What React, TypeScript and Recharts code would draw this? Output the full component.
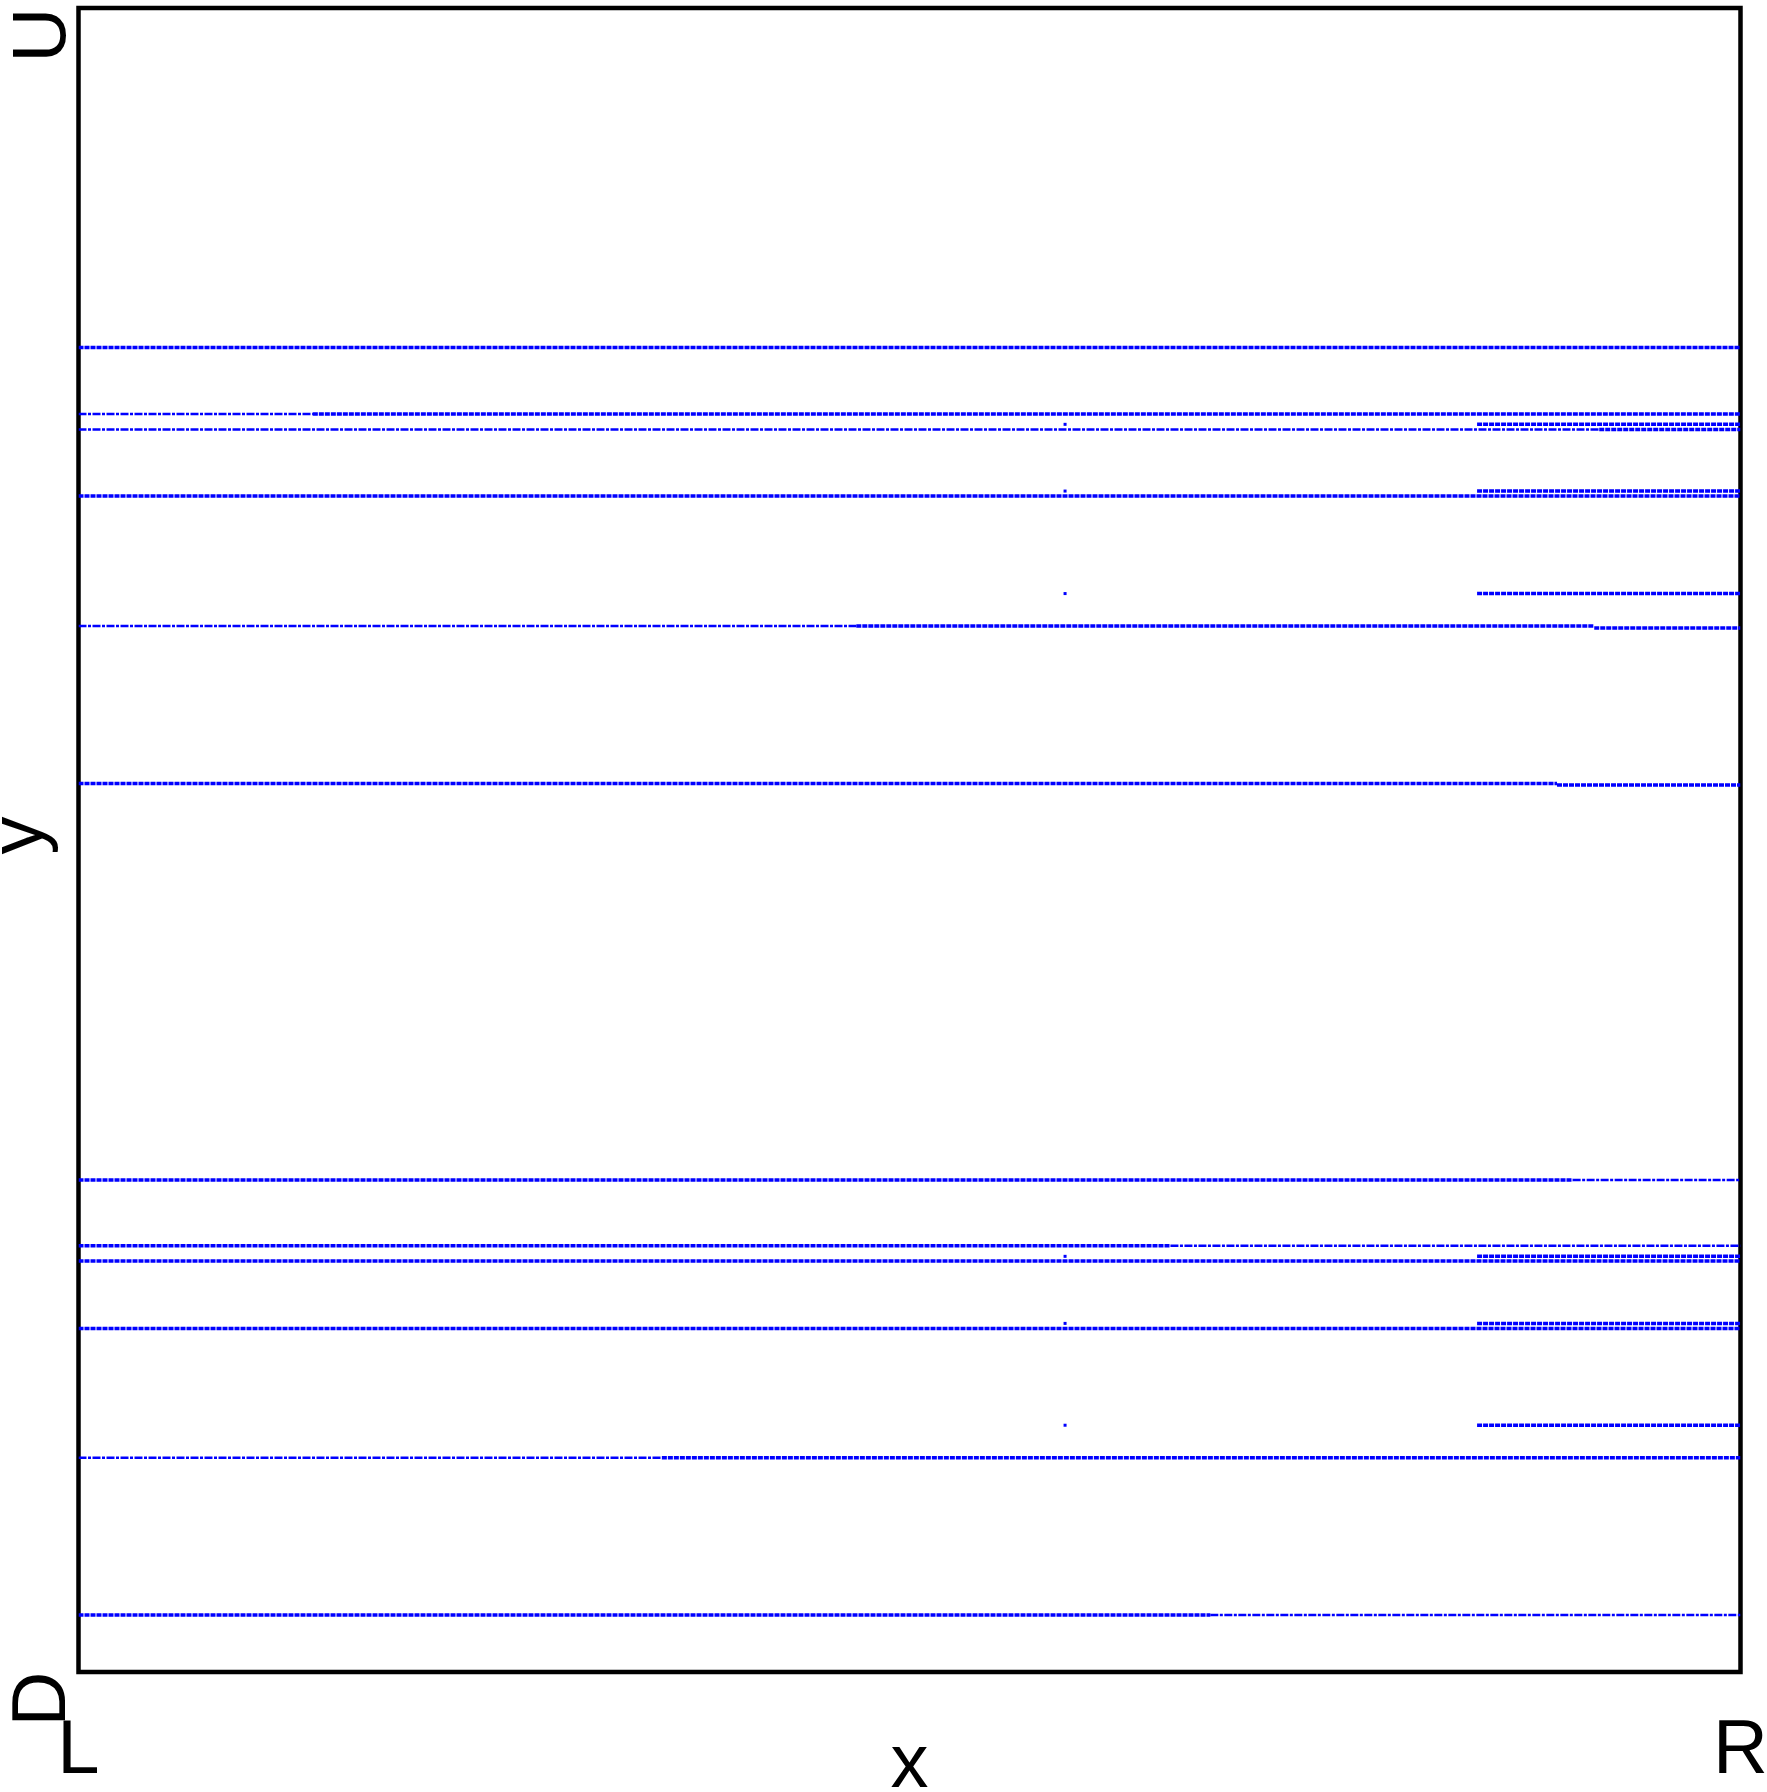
import { ComposedChart, Label, Line, ReferenceArea, Scatter, XAxis, YAxis } from 'recharts';

const WIDTH = 1767;
const HEIGHT = 1792;
const PLOT = { left: 78.5, top: 8, right: 1740.5, bottom: 1672 };

const BLUE = '#0000ff';
const FONT = '"Liberation Sans", Arial, Helvetica, sans-serif';
const FONT_SIZE = 76;

// axis ends and their names
const xTicks = [0, 1];
const xTickNames = ['L', 'R'];
const yTicks = [0, 1];
const yTickNames = ['D', 'U'];
const xTitle = 'x';
const yTitle = 'y';

// each band: [y, xStart, xEnd]
// loose bands (single row of points, sparse)
const sparseBands: [number, number, number][] = [
  [0.756, 0, 0.141],
  [0.7467, 0, 0.915],
  [0.6286, 0, 0.468],
  [0.2957, 0.899, 1],
  [0.2562, 0.657, 1],
  [0.1288, 0, 0.351],
  [0.0343, 0.681, 1],
];

// tight bands (points packed in two rows)
const denseBands: [number, number, number][] = [
  [0.7959, 0, 1],
  [0.756, 0.141, 1],
  [0.7498, 0.8415, 1],
  [0.7467, 0.915, 1],
  [0.7097, 0.8415, 1],
  [0.7067, 0, 1],
  [0.6481, 0.8415, 1],
  [0.6286, 0.468, 0.912],
  [0.6274, 0.912, 1],
  [0.5339, 0, 0.8896],
  [0.533, 0.8896, 1],
  [0.2957, 0, 0.899],
  [0.2562, 0, 0.657],
  [0.2498, 0.8415, 1],
  [0.247, 0, 1],
  [0.2095, 0.8415, 1],
  [0.2065, 0, 1],
  [0.1483, 0.8415, 1],
  [0.1288, 0.351, 1],
  [0.0343, 0, 0.681],
];

// lone points sitting in the middle of the plot
const strayX = 0.5936;
const strayY = [0.7498, 0.7097, 0.6481, 0.2498, 0.2095, 0.1483];

const strayPoints = strayY.map((y) => ({ x: strayX, y }));

const toSegment = ([y, x0, x1]: [number, number, number]) => [
  { x: x0, y },
  { x: x1, y },
];

const textStyle = {
  fontFamily: FONT,
  fontSize: FONT_SIZE,
  fill: '#000',
};

function XTick(props: any) {
  const { x, payload } = props;
  const idx = xTicks.indexOf(payload.value);
  return (
    <text x={x} y={PLOT.bottom + 101} textAnchor="middle" style={textStyle}>
      {xTickNames[idx]}
    </text>
  );
}

function YTick(props: any) {
  const { y, payload } = props;
  const idx = yTicks.indexOf(payload.value);
  const cx = 64.5;
  const cy = y + 27;
  return (
    <text x={cx} y={cy} textAnchor="middle" transform={`rotate(-90, ${cx}, ${cy})`} style={textStyle}>
      {yTickNames[idx]}
    </text>
  );
}

function XTitle() {
  const cx = (PLOT.left + PLOT.right) / 2;
  return (
    <text x={cx} y={PLOT.bottom + 115} textAnchor="middle" style={textStyle}>
      {xTitle}
    </text>
  );
}

function YTitle() {
  const cy = (PLOT.top + PLOT.bottom) / 2 - 4.5;
  const cx = 42;
  return (
    <text x={cx} y={cy} textAnchor="middle" transform={`rotate(-90, ${cx}, ${cy})`} style={textStyle}>
      {yTitle}
    </text>
  );
}

function StrayDot(props: any) {
  const { cx, cy } = props;
  return <rect x={cx - 1.5} y={cy - 1.5} width={3} height={3} fill={BLUE} />;
}

export default function App() {
  return (
    <div style={{ position: 'absolute', left: 0, top: 0, width: WIDTH, height: HEIGHT, background: '#fff' }}>
      <ComposedChart
        width={WIDTH}
        height={HEIGHT}
        margin={{ top: PLOT.top, right: WIDTH - PLOT.right, bottom: 0, left: 0 }}
      >
        <XAxis
          type="number"
          dataKey="x"
          domain={[0, 1]}
          ticks={xTicks}
          interval={0}
          height={HEIGHT - PLOT.bottom}
          axisLine={false}
          tickLine={false}
          allowDataOverflow
          tick={<XTick />}
        >
          <Label content={<XTitle />} />
        </XAxis>
        <YAxis
          type="number"
          dataKey="y"
          domain={[0, 1]}
          ticks={yTicks}
          interval={0}
          width={PLOT.left}
          axisLine={false}
          tickLine={false}
          allowDataOverflow
          tick={<YTick />}
        >
          <Label content={<YTitle />} />
        </YAxis>

        {sparseBands.map((band, i) => (
          <Line
            key={`s${i}`}
            data={toSegment(band)}
            dataKey="y"
            type="linear"
            stroke={BLUE}
            strokeWidth={2.5}
            strokeDasharray="8 1.5 3 1.5"
            dot={false}
            activeDot={false}
            isAnimationActive={false}
          />
        ))}
        {denseBands.map((band, i) => (
          <Line
            key={`d${i}`}
            data={toSegment(band)}
            dataKey="y"
            type="linear"
            stroke={BLUE}
            strokeWidth={3.5}
            strokeDasharray="5 1"
            dot={false}
            activeDot={false}
            isAnimationActive={false}
          />
        ))}
        <Scatter data={strayPoints} dataKey="y" shape={<StrayDot />} isAnimationActive={false} />

        <ReferenceArea
          x1={0}
          x2={1}
          y1={0}
          y2={1}
          fill="none"
          stroke="#000"
          strokeWidth={4.5}
          ifOverflow="visible"
        />
      </ComposedChart>
    </div>
  );
}
